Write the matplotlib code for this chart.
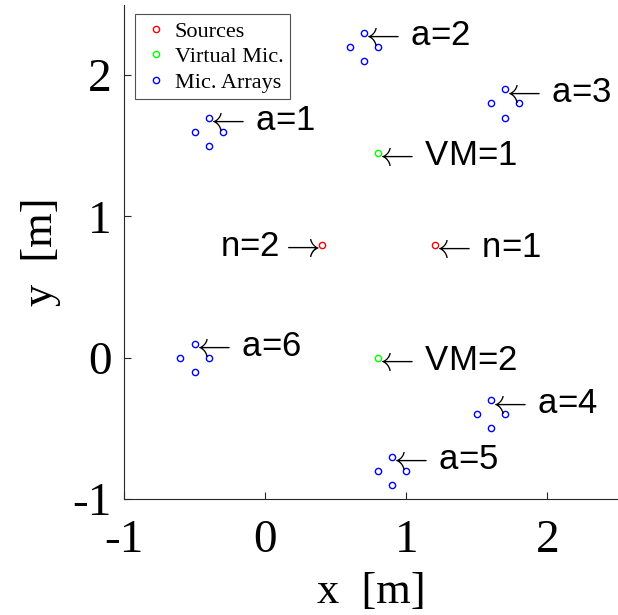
import matplotlib
matplotlib.use("Agg")
import matplotlib.pyplot as plt

plt.rcParams['mathtext.fontset'] = 'cm'

# Data
src_x = [1.2, 0.4]
src_y = [0.8, 0.8]
src_labels = ["n=1", "n=2"]

vm_x = [0.8, 0.8]
vm_y = [1.45, 0.0]
vm_labels = ["VM=1", "VM=2"]

# mic arrays: each array has 4 mics (top, left, right, bottom)
arr_x = [
    [-0.4, -0.5, -0.3, -0.4],
    [0.7, 0.6, 0.8, 0.7],
    [1.7, 1.6, 1.8, 1.7],
    [1.6, 1.5, 1.7, 1.6],
    [0.9, 0.8, 1.0, 0.9],
    [-0.5, -0.6, -0.4, -0.5],
]
arr_y = [
    [1.7, 1.6, 1.6, 1.5],
    [2.3, 2.2, 2.2, 2.1],
    [1.9, 1.8, 1.8, 1.7],
    [-0.3, -0.4, -0.4, -0.5],
    [-0.7, -0.8, -0.8, -0.9],
    [0.1, 0.0, 0.0, -0.1],
]
arr_labels = ["a=1", "a=2", "a=3", "a=4", "a=5", "a=6"]

legend_labels = ["Sources", "Virtual Mic.", "Mic. Arrays"]
xticks = [-1, 0, 1, 2]
yticks = [-1, 0, 1, 2]

serif = ["Liberation Serif", "DejaVu Serif"]
sans = ["Liberation Sans", "DejaVu Sans"]

fig = plt.figure(figsize=(6.18, 6.15), dpi=100)
ax = fig.add_axes([0.2006, 0.1886, 0.7994, 0.804])

ms = 4.5
h1, = ax.plot(src_x, src_y, 'o', mfc='none', mec='red', ms=ms, mew=1.0, linestyle='none')
h2, = ax.plot(vm_x, vm_y, 'o', mfc='none', mec='#00ff00', ms=ms, mew=1.0, linestyle='none')
allx = [v for a in arr_x for v in a]
ally = [v for a in arr_y for v in a]
h3, = ax.plot(allx, ally, 'o', mfc='none', mec='blue', ms=ms, mew=1.0, linestyle='none')

fs_ann = 25
larr = r"$\leftarrow\,$"
rarr = r"$\rightarrow$"
off_l = (-3.6, -2.2)
off_r = (-1.0, -1.5)


def label_left(x, y, lab):
    ax.annotate(larr + lab, xy=(x, y), xytext=off_l, textcoords='offset points',
                ha='left', va='center', fontsize=fs_ann, family=sans)


for xs, ys, lab in zip(arr_x, arr_y, arr_labels):
    label_left(xs[0], ys[0], lab)
for x, y, lab in zip(vm_x, vm_y, vm_labels):
    label_left(x, y, lab)
label_left(src_x[0], src_y[0], src_labels[0])
ax.annotate(src_labels[1] + rarr, xy=(src_x[1], src_y[1]), xytext=off_r,
            textcoords='offset points', ha='right', va='center', fontsize=fs_ann, family=sans)

ax.set_xlim(-1, 2.5)
ax.set_ylim(-1, 2.5)
ax.set_xticks(xticks)
ax.set_yticks(yticks)
ax.set_xticklabels([str(t) for t in xticks], family=serif, fontsize=34)
ax.set_yticklabels([str(t) for t in yticks], family=serif, fontsize=34)
ax.tick_params(direction='in', length=5, width=0.8, color='#262626')
ax.tick_params(axis='x', pad=15)
ax.tick_params(axis='y', pad=9)
for s in ['top', 'right']:
    ax.spines[s].set_visible(False)
for s in ['left', 'bottom']:
    ax.spines[s].set_color('#262626')
    ax.spines[s].set_linewidth(0.8)
ax.set_xlabel("x  [m]", family=serif, fontsize=32, labelpad=7)
ax.set_ylabel("y  [m]", family=serif, fontsize=32, labelpad=8)

leg = ax.legend([h1, h2, h3], legend_labels, loc='upper left', bbox_to_anchor=(0.022, 0.98),
                prop={'family': serif, 'size': 16}, frameon=True, fancybox=False,
                handlelength=1.3, handletextpad=0.2, borderpad=0.3, labelspacing=0.22,
                borderaxespad=0)
leg.get_frame().set_edgecolor('#262626')
leg.get_frame().set_linewidth(0.8)

fig.savefig("out.png", dpi=100)
